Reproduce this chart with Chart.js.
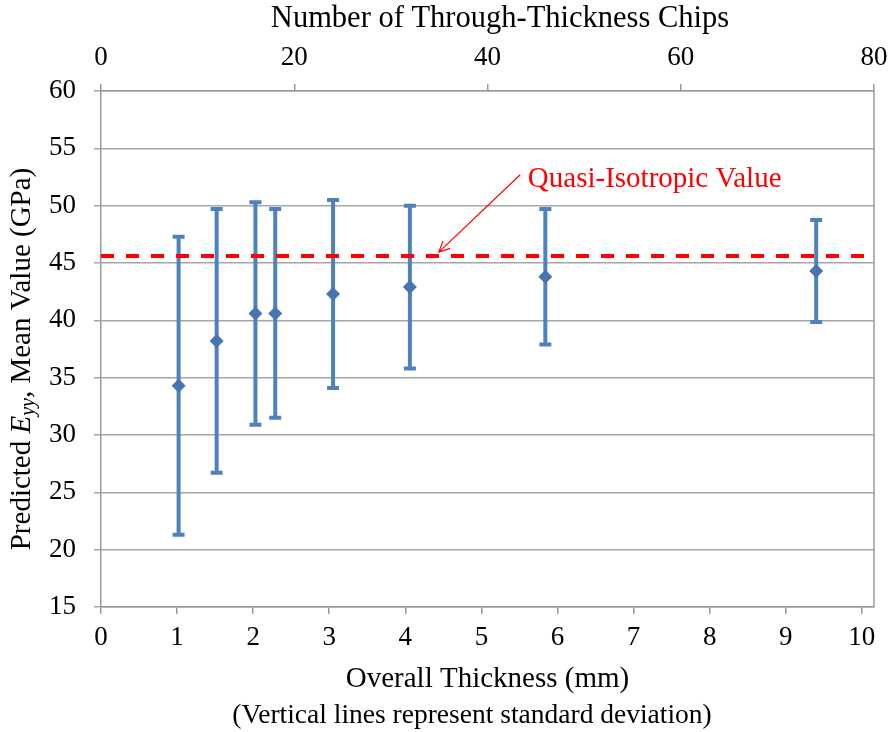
<!DOCTYPE html>
<html>
<head>
<meta charset="utf-8">
<script src="https://cdn.jsdelivr.net/npm/chart.js@4.4.1/dist/chart.umd.min.js"></script>
<style>
  body { margin: 0; background: #fff; }
  #wrap { width: 891px; height: 732px; position: relative; }
</style>
</head>
<body>
<div id="wrap"><canvas id="eyyChart"></canvas></div>
<script>
// thickness of each laminate (mm) and the chip count it corresponds to
const thickness = [1.02, 1.52, 2.03, 2.29, 3.05, 4.06, 5.84, 9.40];
const chips = [8, 12, 16, 18, 24, 32, 46, 74];
// predicted Eyy mean and standard deviation (GPa)
const meanEyy = [34.3, 38.2, 40.6, 40.6, 42.3, 42.9, 43.8, 44.3];
const stdDev = [13.0, 11.5, 9.7, 9.1, 8.2, 7.1, 5.9, 4.45];
const quasiIsotropic = 45.6;

const xTicks = [0, 1, 2, 3, 4, 5, 6, 7, 8, 9, 10];
const chipTicks = [0, 20, 40, 60, 80];
const yTicks = [15, 20, 25, 30, 35, 40, 45, 50, 55, 60];

const serif = "'Liberation Serif', 'Times New Roman', serif";
const barBlue = '#4F81BD';
const dotBlue = '#4675B0';

// label + arrow for the quasi-isotropic line (in data units)
const noteText = 'Quasi-Isotropic Value';
const notePos = { x: 5.61, y: 52.25 };
const arrowFrom = { x: 5.51, y: 52.7 };
const arrowTo = { x: 4.44, y: 45.95 };

const points = thickness.map((t, i) => ({ x: t, y: meanEyy[i] }));

// draws std dev bars, the right frame edge, titles, the note and footnote
const extras = {
    id: 'extras',
    beforeDatasetsDraw(chart) {
        const { ctx, scales } = chart;
        const xs = scales.x, ys = scales.y;
        ctx.save();
        ctx.strokeStyle = barBlue;
        ctx.lineWidth = 4;
        ctx.lineCap = 'butt';
        points.forEach((p, i) => {
            const px = xs.getPixelForValue(p.x);
            const top = ys.getPixelForValue(p.y + stdDev[i]);
            const bot = ys.getPixelForValue(p.y - stdDev[i]);
            ctx.beginPath();
            ctx.moveTo(px, top);
            ctx.lineTo(px, bot);
            ctx.moveTo(px - 6, top);
            ctx.lineTo(px + 6, top);
            ctx.moveTo(px - 6, bot);
            ctx.lineTo(px + 6, bot);
            ctx.stroke();
        });
        ctx.restore();
    },
    afterDraw(chart) {
        const { ctx, chartArea, scales } = chart;
        const xs = scales.x, ys = scales.y;
        ctx.save();
        // right edge of the plot frame
        ctx.strokeStyle = '#999';
        ctx.lineWidth = 1.5;
        ctx.beginPath();
        ctx.moveTo(chartArea.right, chartArea.top);
        ctx.lineTo(chartArea.right, chartArea.bottom);
        ctx.stroke();

        // annotation
        ctx.fillStyle = '#FF0000';
        ctx.font = '29px ' + serif;
        ctx.textAlign = 'left';
        ctx.textBaseline = 'middle';
        ctx.fillText(noteText, xs.getPixelForValue(notePos.x), ys.getPixelForValue(notePos.y));
        const x1 = xs.getPixelForValue(arrowFrom.x), y1 = ys.getPixelForValue(arrowFrom.y);
        const x2 = xs.getPixelForValue(arrowTo.x), y2 = ys.getPixelForValue(arrowTo.y);
        ctx.strokeStyle = '#FF0000';
        ctx.lineWidth = 1.2;
        ctx.beginPath();
        ctx.moveTo(x1, y1);
        ctx.lineTo(x2, y2);
        const ang = Math.atan2(y2 - y1, x2 - x1);
        const head = 12;
        ctx.moveTo(x2 - head * Math.cos(ang - 0.45), y2 - head * Math.sin(ang - 0.45));
        ctx.lineTo(x2, y2);
        ctx.lineTo(x2 - head * Math.cos(ang + 0.45), y2 - head * Math.sin(ang + 0.45));
        ctx.stroke();

        // top axis title (sits a little right of centre in the original)
        ctx.fillStyle = '#000';
        ctx.textAlign = 'center';
        ctx.font = '30.5px ' + serif;
        ctx.fillText('Number of Through-Thickness Chips', 500, 19);

        // footnote
        ctx.font = '27.5px ' + serif;
        ctx.fillText('(Vertical lines represent standard deviation)', 472, 716);

        // y title with italic E and subscript yy
        const cy = (chartArea.top + chartArea.bottom) / 2 + 10;
        ctx.translate(22, cy);
        ctx.rotate(-Math.PI / 2);
        const parts = [
            { t: 'Predicted ', f: '29px ' + serif, dy: 0 },
            { t: 'E', f: 'italic 29px ' + serif, dy: 0 },
            { t: 'yy', f: 'italic 20px ' + serif, dy: 7 },
            { t: ', Mean Value (GPa)', f: '29px ' + serif, dy: 0 }
        ];
        let total = 0;
        parts.forEach(p => { ctx.font = p.f; total += ctx.measureText(p.t).width; });
        let cx = -total / 2;
        ctx.textAlign = 'left';
        parts.forEach(p => {
            ctx.font = p.f;
            ctx.fillText(p.t, cx, p.dy);
            cx += ctx.measureText(p.t).width;
        });
        ctx.restore();
    }
};

const noSidePad = s => { s.paddingLeft = 0; s.paddingRight = 0; };

const ctx = document.getElementById('eyyChart');
const eyyChart = new Chart(ctx, {
    type: 'scatter',
    data: {
        datasets: [
            {
                label: 'Predicted Eyy',
                data: points,
                pointStyle: 'rectRot',
                pointRadius: 7,
                backgroundColor: dotBlue,
                borderColor: dotBlue,
                borderWidth: 0
            },
            {
                label: 'Quasi-Isotropic Value',
                type: 'line',
                data: [{ x: 0, y: quasiIsotropic }, { x: 10.16, y: quasiIsotropic }],
                borderColor: '#FF0000',
                borderWidth: 4,
                borderDash: [13, 12],
                pointRadius: 0,
                fill: false
            }
        ]
    },
    options: {
        responsive: true,
        maintainAspectRatio: false,
        animation: false,
        layout: { padding: { right: 17, left: 0, top: 0, bottom: 0 } },
        plugins: {
            legend: { display: false },
            tooltip: { enabled: false }
        },
        scales: {
            x: {
                type: 'linear',
                position: 'bottom',
                min: 0,
                max: 10.16,
                afterBuildTicks: s => { s.ticks = xTicks.map(v => ({ value: v })); },
                afterFit: s => { s.height = 125; noSidePad(s); },
                grid: { drawOnChartArea: false, color: '#999', lineWidth: 1.5, tickLength: 7 },
                border: { color: '#999', width: 1.5 },
                ticks: { color: '#000', font: { family: serif, size: 27 }, padding: 8, maxRotation: 0 },
                title: {
                    display: true,
                    text: 'Overall Thickness (mm)',
                    color: '#000',
                    font: { family: serif, size: 29, lineHeight: 1.2 },
                    padding: { top: 0, bottom: 35 }
                }
            },
            x2: {
                type: 'linear',
                position: 'top',
                min: 0,
                max: 80,
                afterBuildTicks: s => { s.ticks = chipTicks.map(v => ({ value: v })); },
                afterFit: s => { s.height = 91; noSidePad(s); },
                grid: { drawOnChartArea: false, color: '#999', lineWidth: 1.5, tickLength: 7 },
                border: { color: '#999', width: 1.5 },
                ticks: { color: '#000', font: { family: serif, size: 27 }, padding: 10, maxRotation: 0 },
                title: { display: false }
            },
            y: {
                type: 'linear',
                min: 15,
                max: 60,
                afterBuildTicks: s => { s.ticks = yTicks.map(v => ({ value: v })); },
                afterFit: s => { s.width = 101; },
                grid: { color: '#a6a6a6', lineWidth: 1.5, tickLength: 7 },
                border: { color: '#999', width: 1.5 },
                ticks: { color: '#000', font: { family: serif, size: 27 }, padding: 18 }
            }
        }
    },
    plugins: [extras]
});
</script>
</body>
</html>
